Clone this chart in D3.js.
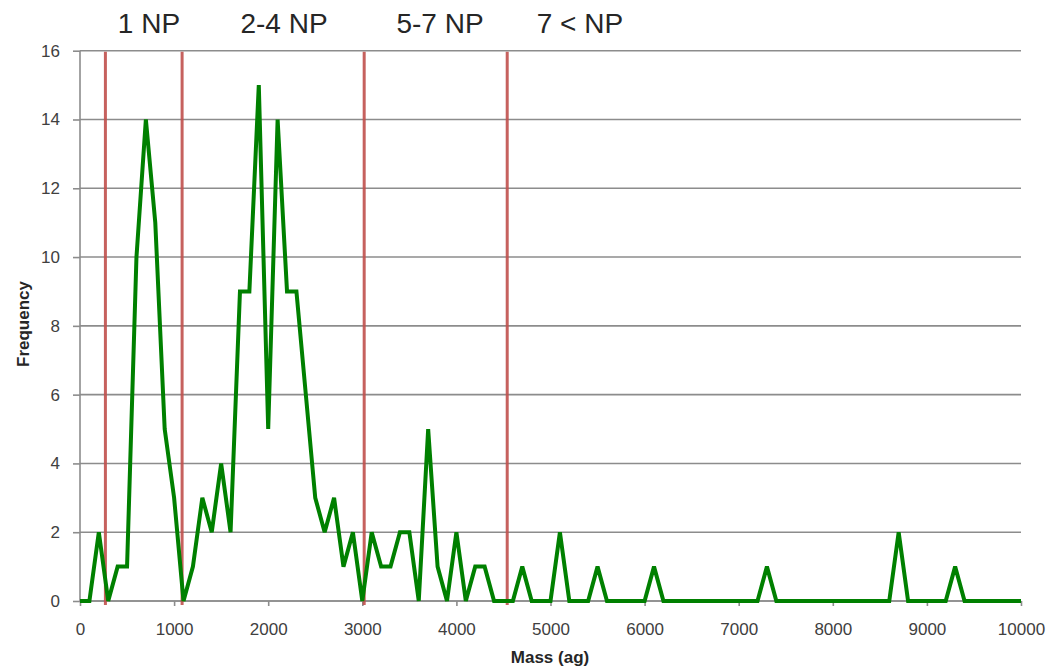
<!DOCTYPE html>
<html>
<head>
<meta charset="utf-8">
<script src="https://cdn.jsdelivr.net/npm/d3@7"></script>
<style>
  html, body { margin: 0; padding: 0; background: #ffffff; }
  svg { display: block; }
  text { font-family: "Liberation Sans", Arial, sans-serif; fill: #404040; }
</style>
</head>
<body>
<svg id="chart" width="1050" height="671"></svg>
<script>
// Mass bins (ag)
const masses = [
  0, 100, 200, 300, 400, 500, 600, 700, 800, 900,
  1000, 1100, 1200, 1300, 1400, 1500, 1600, 1700, 1800, 1900,
  2000, 2100, 2200, 2300, 2400, 2500, 2600, 2700, 2800, 2900,
  3000, 3100, 3200, 3300, 3400, 3500, 3600, 3700, 3800, 3900,
  4000, 4100, 4200, 4300, 4400, 4500, 4600, 4700, 4800, 4900,
  5000, 5100, 5200, 5300, 5400, 5500, 5600, 5700, 5800, 5900,
  6000, 6100, 6200, 6300, 6400, 6500, 6600, 6700, 6800, 6900,
  7000, 7100, 7200, 7300, 7400, 7500, 7600, 7700, 7800, 7900,
  8000, 8100, 8200, 8300, 8400, 8500, 8600, 8700, 8800, 8900,
  9000, 9100, 9200, 9300, 9400, 9500, 9600, 9700, 9800, 9900,
  10000
];
// Frequency per bin
const frequency = [
  0, 0, 2, 0, 1, 1, 10, 14, 11, 5,
  3, 0, 1, 3, 2, 4, 2, 9, 9, 15,
  5, 14, 9, 9, 6, 3, 2, 3, 1, 2,
  0, 2, 1, 1, 2, 2, 0, 5, 1, 0,
  2, 0, 1, 1, 0, 0, 0, 1, 0, 0,
  0, 2, 0, 0, 0, 1, 0, 0, 0, 0,
  0, 1, 0, 0, 0, 0, 0, 0, 0, 0,
  0, 0, 0, 1, 0, 0, 0, 0, 0, 0,
  0, 0, 0, 0, 0, 0, 0, 2, 0, 0,
  0, 0, 0, 1, 0, 0, 0, 0, 0, 0,
  0
];
// Region boundaries (ag)
const boundaries = [270, 1085, 3020, 4540];
// Region labels and their centre positions (ag)
const regionLabels = ["1 NP", "2-4 NP", "5-7 NP", "7 < NP"];
const regionLabelX = [733, 2168, 3826, 5313];
// Tick values
const xTicks = [0, 1000, 2000, 3000, 4000, 5000, 6000, 7000, 8000, 9000, 10000];
const yTicks = [0, 2, 4, 6, 8, 10, 12, 14, 16];

const svg = d3.select("#chart");
const plotLeft = 80, plotRight = 1021, plotTop = 50.7, plotBottom = 601;

const x = d3.scaleLinear().domain([0, 10000]).range([plotLeft, plotRight]);
const y = d3.scaleLinear().domain([0, 16]).range([plotBottom, plotTop]);

const gridColor = "#8c8c8c";

// Horizontal gridlines
svg.append("g").selectAll("line").data(yTicks).join("line")
  .attr("x1", plotLeft).attr("x2", plotRight)
  .attr("y1", d => y(d)).attr("y2", d => y(d))
  .attr("stroke", gridColor).attr("stroke-width", 1.6);

// Y axis
const yAxis = d3.axisLeft(y).tickValues(yTicks).tickSize(7).tickPadding(13).tickFormat(d3.format("d"));
const gy = svg.append("g").attr("transform", `translate(${plotLeft},0)`).call(yAxis);
gy.select(".domain").attr("stroke", gridColor).attr("stroke-width", 1.6).attr("d", `M0,${plotTop}V${plotBottom}`);
gy.selectAll(".tick line").attr("stroke", gridColor).attr("stroke-width", 1.6);
gy.selectAll(".tick text").style("font-size", "17px").style("font-family", "'Liberation Sans', Arial, sans-serif").attr("fill", "#404040");

// X axis
const xAxis = d3.axisBottom(x).tickValues(xTicks).tickSize(5).tickPadding(17).tickFormat(d3.format("d"));
const gx = svg.append("g").attr("transform", `translate(0,${plotBottom})`).call(xAxis);
gx.select(".domain").attr("stroke", gridColor).attr("stroke-width", 1.6).attr("d", `M${plotLeft},0H${plotRight}`);
gx.selectAll(".tick line").attr("stroke", gridColor).attr("stroke-width", 1.6);
gx.selectAll(".tick text").style("font-size", "17px").style("font-family", "'Liberation Sans', Arial, sans-serif").attr("fill", "#404040");

// Region boundary lines
svg.append("g").selectAll("line").data(boundaries).join("line")
  .attr("x1", d => x(d)).attr("x2", d => x(d))
  .attr("y1", plotTop + 1).attr("y2", plotBottom + 4)
  .attr("stroke", "#c0504d").attr("stroke-width", 3).attr("stroke-opacity", 0.9);

// Frequency line
const pts = masses.map((m, i) => [m, frequency[i]]);
svg.append("path").datum(pts)
  .attr("fill", "none")
  .attr("stroke", "#008000")
  .attr("stroke-width", 4)
  .attr("stroke-linejoin", "miter")
  .attr("stroke-miterlimit", 2)
  .attr("d", d3.line().x(d => x(d[0])).y(d => y(d[1])));

// Region labels
svg.append("g").selectAll("text").data(regionLabels).join("text")
  .attr("x", (d, i) => x(regionLabelX[i]))
  .attr("y", 33)
  .attr("text-anchor", "middle")
  .style("font-size", "28px")
  .style("fill", "#262626")
  .text(d => d);

// Axis titles
svg.append("text")
  .attr("x", 550).attr("y", 663)
  .attr("text-anchor", "middle")
  .style("font-size", "17px").style("font-weight", "bold")
  .style("fill", "#262626")
  .text("Mass (ag)");

svg.append("text")
  .attr("transform", "translate(29,324) rotate(-90)")
  .attr("text-anchor", "middle")
  .style("font-size", "17px").style("font-weight", "bold")
  .style("fill", "#262626")
  .text("Frequency");
</script>
</body>
</html>
